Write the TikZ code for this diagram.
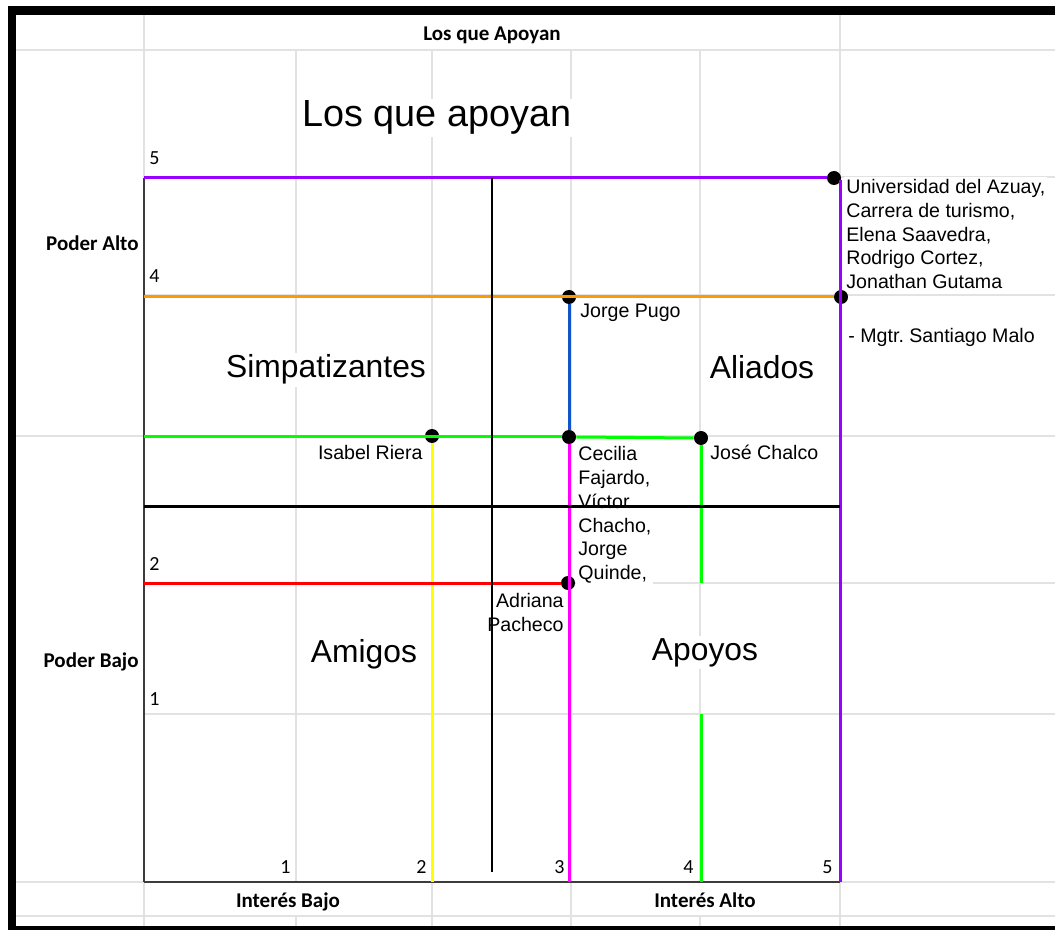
\documentclass[tikz,border=0pt]{standalone}
\usepackage{fontspec}
\setmainfont{Liberation Sans}
\newfontfamily\calibri{Carlito}
\usetikzlibrary{positioning}

\definecolor{hoja}{RGB}{226,226,226}
\definecolor{eje}{RGB}{60,60,60}
\definecolor{morado}{RGB}{153,0,255}
\definecolor{naranja}{RGB}{255,153,0}
\definecolor{azul}{RGB}{17,85,204}
\definecolor{verde}{RGB}{0,255,0}
\definecolor{amarillo}{RGB}{255,255,0}
\definecolor{rojo}{RGB}{255,0,0}
\definecolor{magenta}{RGB}{255,0,255}

\begin{document}
\begin{tikzpicture}[x=0.5pt,y=-0.5pt,
    punto/.style={circle,fill=black,inner sep=0pt,minimum size=7pt},
    cuadrante/.style={fill=white,inner sep=1pt,font=\fontsize{15.9}{19}\selectfont},
    nombre/.style={fill=white,inner sep=1pt,align=left,font=\fontsize{9.8}{11.9}\selectfont},
    rotulo/.style={inner sep=0pt,font=\calibri\bfseries\fontsize{10.5}{12}\selectfont},
    marca/.style={inner sep=0pt,font=\calibri\fontsize{10}{12}\selectfont}]

  % hoja de calculo
  \useasboundingbox (0,0) rectangle (1055,930);
  \fill[black] (8,6) rectangle (1055,930);
  \fill[white] (16,15) rectangle (1055,926);
  \begin{scope}[hoja,line width=0.6pt]
    \foreach \x in {144,840} \draw (\x,15) -- (\x,926);
    \foreach \x in {296,700} \draw (\x,50) -- (\x,882) (\x,916) -- (\x,926);
    \foreach \x in {432,571} \draw (\x,50) -- (\x,926);
    \foreach \y in {50,436,882,916} \draw (16,\y) -- (1055,\y);
    \foreach \y in {177,295,583,714} \draw (144,\y) -- (1055,\y);
  \end{scope}

  % rotulos de la hoja
  \node[rotulo,anchor=base] (titulo) at (492,41) {Los que Apoyan};
  \node[rotulo,anchor=base east] (poderA) at (139,251) {Poder Alto};
  \node[rotulo,anchor=base east] (poderB) at (139,667) {Poder Bajo};
  \node[rotulo,anchor=base] (interesB) at (288,907) {Interés Bajo};
  \node[rotulo,anchor=base] (interesA) at (705,907) {Interés Alto};
  \node[fill=white,inner sep=1pt,anchor=base,font=\fontsize{18.9}{22}\selectfont] (grande) at (437,127) {Los que apoyan};

  % escala
  \begin{scope}[every node/.style={marca,anchor=base west}]
    \node (y5) at (149,165) {5};
    \node (y4) at (149,283) {4};
    \node (y2) at (149,570) {2};
    \node (y1) at (149,705) {1};
  \end{scope}
  \begin{scope}[every node/.style={marca,anchor=base east}]
    \node (x1) at (291,873) {1};
    \node (x2) at (427,873) {2};
    \node (x3) at (565,873) {3};
    \node (x4) at (694,873) {4};
    \node (x5) at (833,873) {5};
  \end{scope}

  % cuadrantes
  \node[cuadrante,anchor=base] (simp) at (326,378) {Simpatizantes};
  \node[cuadrante,anchor=base] (alia) at (762,379) {Aliados};
  \node[cuadrante,anchor=base] (amig) at (364,662) {Amigos};
  \node[cuadrante,anchor=base] (apoy) at (705,660) {Apoyos};

  % actores
  \node[nombre,anchor=north west] (univ) at (844,177) {Universidad del Azuay,\\Carrera de turismo,\\Elena Saavedra,\\Rodrigo Cortez,\\Jonathan Gutama};
  \node[nombre,anchor=base west] (malo) at (846,343) {- Mgtr.\ Santiago Malo};
  \node[nombre,anchor=base west] (pugo) at (578,318) {Jorge Pugo};
  \node[nombre,anchor=base east] (riera) at (425,460) {Isabel Riera};
  \node[nombre,anchor=north west] (fajardo) at (576,444) {Cecilia\\Fajardo,\\Víctor\\Chacho,\\Jorge\\Quinde,};
  \node[nombre,anchor=base west] (chalco) at (708,460) {José Chalco};
  \node[nombre,anchor=north east,align=right] (pacheco) at (566,591) {Adriana\\Pacheco};

  % puntos
  \node[punto] (pU) at (834,178) {};
  \node[punto] (pM) at (841,297) {};
  \node[punto] (pJ) at (569,297) {};
  \node[punto] (pI) at (432,436) {};
  \node[punto] (pC) at (569,437) {};
  \node[punto] (pH) at (701,438) {};
  \node[punto] (pA) at (568,583) {};

  \coordinate (a5) at (144,178);
  \coordinate (a4) at (144,297);
  \coordinate (a3) at (144,437);
  \coordinate (a2) at (144,583);
  \coordinate (origen) at (144,882);
  \coordinate (ejeFin) at (840,882);
  \coordinate (mTop) at (840,180);
  \coordinate (yFin) at (432,882);
  \coordinate (mgFin) at (569,882);
  \coordinate (vA) at (701,583);
  \coordinate (vB) at (701,714);
  \coordinate (vFin) at (701,882);
  \coordinate (hA) at (144,507);
  \coordinate (hB) at (840,507);
  \coordinate (cA) at (492,178);
  \coordinate (cB) at (492,872);

  % lineas
  \begin{scope}[every edge/.style={draw,line width=1.5pt}]
    \path (a5) edge[eje,line width=1pt] (origen);
    \path (origen) edge[eje,line width=1pt] (ejeFin);
    \path (a5) edge[morado] (pU);
    \path (mTop) edge[morado] (ejeFin);
    \path (a4) edge[naranja] (pM);
    \path (pJ) edge[azul] (pC);
    \path (a3) edge[verde] (pC) (pC.east) edge[verde] (pH.west);
    \path (pI) edge[amarillo] (yFin);
    \path (pC) edge[magenta] (mgFin);
    \path (pH) edge[verde] (vA);
    \path (vB) edge[verde] (vFin);
    \path (a2) edge[rojo] (pA);
    \path (hA) edge[black] (hB);
    \path (cA) edge[black,line width=1pt] (cB);
  \end{scope}
\end{tikzpicture}
\end{document}
